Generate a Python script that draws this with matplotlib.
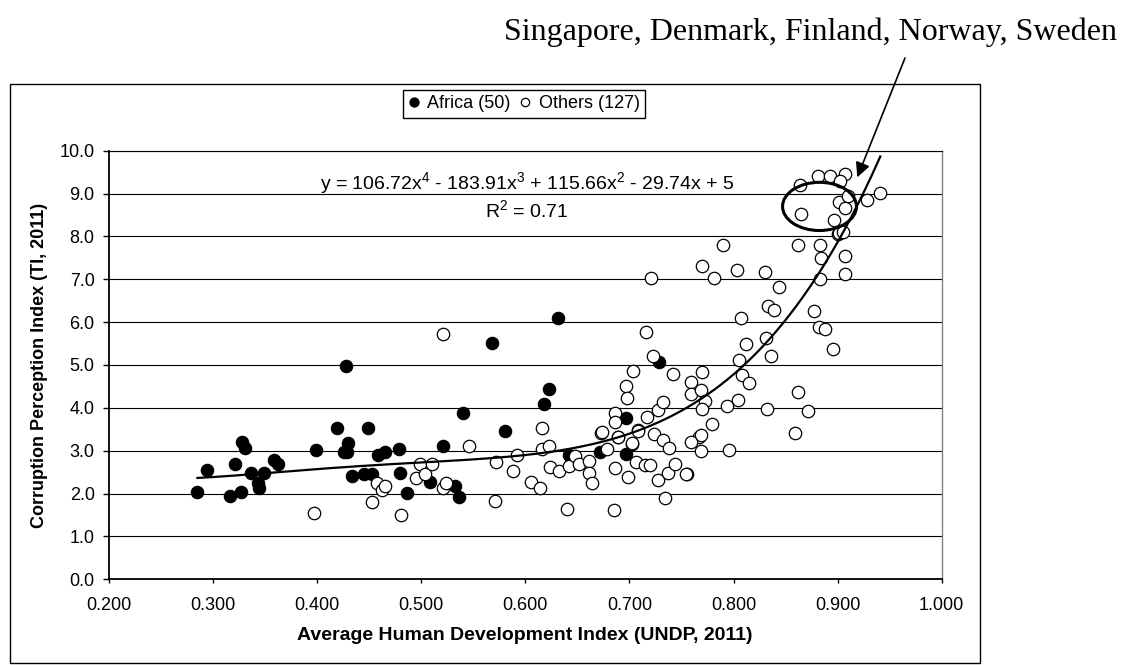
import numpy as np
import matplotlib
matplotlib.use("Agg")
import matplotlib.pyplot as plt
from matplotlib.lines import Line2D
from matplotlib.patches import Ellipse, Rectangle

plt.rcParams['font.family'] = ['Liberation Sans', 'DejaVu Sans']
plt.rcParams['mathtext.fontset'] = 'custom'
plt.rcParams['mathtext.rm'] = 'Liberation Sans'
plt.rcParams['mathtext.it'] = 'Liberation Sans:italic'
plt.rcParams['mathtext.bf'] = 'Liberation Sans:bold'
plt.rcParams['mathtext.default'] = 'regular'

# ---------------- data ----------------
africa_hdi = [0.285, 0.294, 0.321, 0.316, 0.327, 0.328, 0.331, 0.336, 0.343, 0.344,
              0.349, 0.359, 0.362, 0.399, 0.428, 0.419, 0.430, 0.426, 0.429, 0.433,
              0.449, 0.445, 0.453, 0.458, 0.465, 0.479, 0.480, 0.486, 0.508, 0.521,
              0.532, 0.536, 0.540, 0.568, 0.580, 0.631, 0.623, 0.618, 0.642, 0.672,
              0.697, 0.697, 0.728]
africa_cpi = [2.04, 2.55, 2.70, 1.95, 2.04, 3.21, 3.07, 2.47, 2.24, 2.13,
              2.49, 2.78, 2.70, 3.01, 4.98, 3.53, 3.19, 2.97, 2.97, 2.41,
              3.53, 2.45, 2.45, 2.90, 2.96, 3.04, 2.48, 2.02, 2.26, 3.10,
              2.17, 1.92, 3.87, 5.52, 3.47, 6.10, 4.43, 4.10, 2.90, 2.97,
              3.76, 2.92, 5.07]

others_hdi = [0.397, 0.453, 0.457, 0.462, 0.465, 0.481, 0.495, 0.499, 0.504, 0.510,
              0.521, 0.521, 0.524, 0.546, 0.571, 0.572, 0.588, 0.592, 0.605, 0.614,
              0.616, 0.616, 0.623, 0.624, 0.632, 0.640, 0.642, 0.648, 0.652, 0.661,
              0.661, 0.664, 0.673, 0.678, 0.685, 0.686, 0.686, 0.686, 0.689, 0.697,
              0.698, 0.699, 0.702, 0.703, 0.706, 0.708, 0.716, 0.715, 0.720, 0.723,
              0.717, 0.724, 0.727, 0.732, 0.727, 0.732, 0.734, 0.738, 0.737, 0.742,
              0.744, 0.721, 0.770, 0.781, 0.790, 0.803, 0.807, 0.812, 0.805, 0.808,
              0.815, 0.804, 0.794, 0.796, 0.830, 0.844, 0.833, 0.839, 0.831, 0.836,
              0.832, 0.862, 0.883, 0.884, 0.883, 0.877, 0.882, 0.888, 0.896, 0.862,
              0.872, 0.859, 0.907, 0.907, 0.900, 0.770, 0.759, 0.759, 0.769, 0.773,
              0.770, 0.779, 0.767, 0.769, 0.759, 0.769, 0.755, 0.754, 0.702, 0.708,
              0.689, 0.674, 0.881, 0.893, 0.907, 0.902, 0.864, 0.941, 0.928, 0.901,
              0.907, 0.865, 0.897, 0.910, 0.901, 0.905]
others_cpi = [1.54, 1.81, 2.24, 2.08, 2.18, 1.50, 2.37, 2.68, 2.45, 2.70,
              5.73, 2.13, 2.24, 3.10, 1.83, 2.74, 2.52, 2.90, 2.27, 2.13,
              3.53, 3.05, 3.11, 2.62, 2.52, 1.64, 2.65, 2.88, 2.68, 2.76,
              2.49, 2.24, 3.42, 3.04, 1.61, 2.59, 3.89, 3.66, 3.32, 4.51,
              4.23, 2.38, 3.15, 4.86, 2.74, 3.48, 5.76, 2.66, 2.66, 5.20,
              3.79, 3.40, 3.96, 4.14, 2.31, 3.24, 1.89, 3.07, 2.49, 4.80,
              2.70, 7.03, 7.32, 7.03, 7.80, 7.22, 6.09, 5.50, 5.12, 4.77,
              4.57, 4.19, 4.04, 3.01, 7.17, 6.83, 6.37, 6.29, 5.63, 5.22,
              3.98, 7.80, 7.80, 7.50, 7.01, 6.26, 5.88, 5.83, 5.38, 4.37,
              3.93, 3.41, 7.13, 7.55, 8.06, 4.84, 4.60, 4.32, 4.41, 4.16,
              3.98, 3.62, 3.32, 3.36, 3.21, 2.99, 2.45, 2.46, 3.18, 3.46,
              3.31, 3.44, 9.40, 9.40, 9.46, 9.30, 9.20, 9.01, 8.85, 8.80,
              8.66, 8.52, 8.39, 8.95, 8.07, 8.10]

trend_coefs = [106.72, -183.91, 115.66, -29.74, 5.0]

x_ticks = [0.2, 0.3, 0.4, 0.5, 0.6, 0.7, 0.8, 0.9, 1.0]
x_tick_labels = ['0.200', '0.300', '0.400', '0.500', '0.600', '0.700', '0.800', '0.900', '1.000']
y_ticks = [0, 1, 2, 3, 4, 5, 6, 7, 8, 9, 10]
y_tick_labels = ['0.0', '1.0', '2.0', '3.0', '4.0', '5.0', '6.0', '7.0', '8.0', '9.0', '10.0']

legend_labels = ['Africa (50)', 'Others (127)']
equation_text = r'y = 106.72x$^4$ - 183.91x$^3$ + 115.66x$^2$ - 29.74x + 5'
r2_text = r'R$^2$ = 0.71'
callout_text = 'Singapore, Denmark, Finland, Norway, Sweden'
x_label = 'Average Human Development Index (UNDP, 2011)'
y_label = 'Corruption Perception Index (TI, 2011)'

# ---------------- figure ----------------
W, H = 1131, 665
fig = plt.figure(figsize=(W / 100, H / 100), dpi=100)


def px(x, y):
    """image pixel coords (origin top-left) -> figure fraction"""
    return x / W, (H - y) / H


ax_left, ax_top, ax_right, ax_bottom = 109, 150.7, 941.7, 579.3
ax = fig.add_axes([ax_left / W, (H - ax_bottom) / H,
                   (ax_right - ax_left) / W, (ax_bottom - ax_top) / H])

ax.scatter(africa_hdi, africa_cpi, s=80, c='black', edgecolors='black',
           linewidths=0.8, zorder=3)
ax.scatter(others_hdi, others_cpi, s=80, facecolors='white', edgecolors='black',
           linewidths=0.9, zorder=4)

all_x = africa_hdi + others_hdi
xs = np.linspace(min(all_x), max(all_x), 400)
ax.plot(xs, np.polyval(trend_coefs, xs), color='black', lw=1.6, zorder=5)

ax.set_xlim(0.2, 1.0)
ax.set_ylim(0, 10)
ax.set_xticks(x_ticks)
ax.set_xticklabels(x_tick_labels)
ax.set_yticks(y_ticks)
ax.set_yticklabels(y_tick_labels)
ax.yaxis.grid(True, color='black', lw=0.8)
ax.set_axisbelow(True)
ax.tick_params(axis='y', direction='out', length=4.3, width=1, pad=6, labelsize=13)
ax.tick_params(axis='x', direction='out', length=3, width=1, pad=10, labelsize=13)
for s in ['left', 'bottom']:
    ax.spines[s].set_color('black')
    ax.spines[s].set_linewidth(1.3)
ax.spines['top'].set_color('black')
ax.spines['top'].set_linewidth(0.8)
ax.spines['right'].set_color('#808080')
ax.spines['right'].set_linewidth(1.0)

# ellipse around the top cluster
ax.add_patch(Ellipse((0.8826, 8.70), 0.071, 1.125, fill=False, ec='black',
                     lw=2.2, zorder=6, clip_on=False))

# equation & R2
fig.text(*px(527, 183), equation_text, ha='center', va='center', fontsize=14)
fig.text(*px(527, 210), r2_text, ha='center', va='center', fontsize=14)

# axis labels
fig.text(*px(525, 636), x_label, ha='center', va='center', fontsize=14, fontweight='bold')
fig.text(*px(40, 365), y_label, ha='center', va='center', fontsize=13,
         fontweight='bold', rotation=90)

# legend
handles = [Line2D([], [], marker='o', ls='none', ms=6.5, mfc='black', mec='black', mew=0.9),
           Line2D([], [], marker='o', ls='none', ms=6.0, mfc='white', mec='black', mew=0.9)]
leg = fig.legend(handles, legend_labels, loc='center', bbox_to_anchor=px(524, 104),
                 ncol=2, frameon=True, fancybox=False, edgecolor='black', framealpha=1,
                 fontsize=13, handlelength=0.6, handletextpad=0.45, columnspacing=0.5,
                 borderpad=0.3, borderaxespad=0)
leg.get_frame().set_linewidth(1.0)

# outer chart frame
fig.patches.append(Rectangle(px(10, 663), 970 / W, (663 - 84.3) / H,
                             transform=fig.transFigure, fill=False, ec='black', lw=1.0))

# callout text + arrow
fig.text(*px(810, 32), callout_text, ha='center', va='center', fontsize=23,
         family='Liberation Serif')
ax.annotate('', xy=(857.3, H - 177.3), xycoords='figure pixels',
            xytext=(905, H - 58), textcoords='figure pixels',
            arrowprops=dict(arrowstyle='-|>', color='black', lw=1.2, mutation_scale=22,
                            shrinkA=0, shrinkB=0),
            annotation_clip=False)

fig.savefig('out.png', dpi=100)
